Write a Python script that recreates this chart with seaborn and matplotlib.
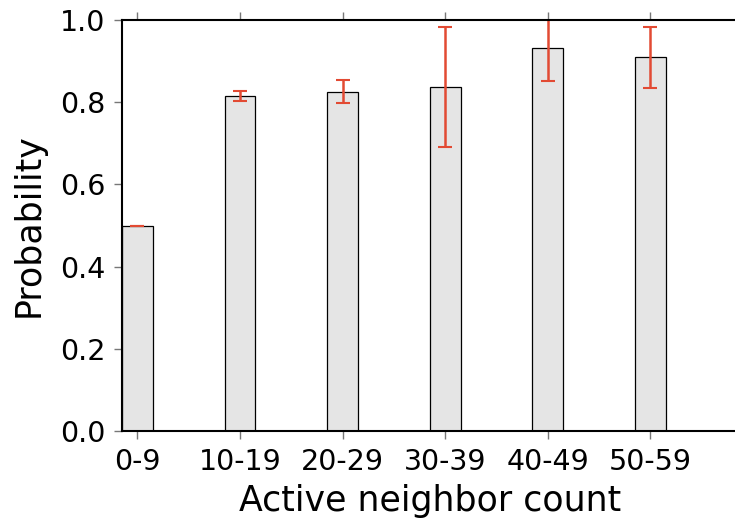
import matplotlib
matplotlib.use("Agg")
import matplotlib.pyplot as plt
import seaborn as sns
import pandas as pd

categories = ["0-9", "10-19", "20-29", "30-39", "40-49", "50-59"]
probability = [0.500, 0.815, 0.826, 0.837, 0.931, 0.909]
error = [0.000, 0.012, 0.027, 0.146, 0.079, 0.075]

sns.set_style("white")
plt.rcParams["font.family"] = ["DejaVu Sans"]
plt.rcParams["text.color"] = "black"
plt.rcParams["axes.labelcolor"] = "black"
plt.rcParams["xtick.labelcolor"] = "black"
plt.rcParams["ytick.labelcolor"] = "black"

df = pd.DataFrame({"group": categories, "p": probability, "err": error})

fig = plt.figure(figsize=(7.35, 5.27), dpi=100)
ax = fig.add_axes([122 / 735, 96 / 527, 615.6 / 735, 411 / 527])

sns.barplot(data=df, x="group", y="p", order=categories, width=0.3,
            color="#e5e5e5", saturation=1, edgecolor="black", linewidth=0.9,
            errorbar=None, ax=ax)
ax.errorbar(range(len(categories)), df["p"], yerr=df["err"], fmt="none",
            ecolor="#e24a33", elinewidth=1.8, capsize=5, capthick=1.5)

ax.set_xlim(-0.15, 5.85)
ax.set_ylim(0, 1.0)
ax.set_yticks([0.0, 0.2, 0.4, 0.6, 0.8, 1.0])
ax.set_yticklabels(["0.0", "0.2", "0.4", "0.6", "0.8", "1.0"])
ax.set_xlabel("Active neighbor count", fontsize=25, labelpad=6)
ax.set_ylabel("Probability", fontsize=25, labelpad=10)

for side in ["left", "top", "bottom", "right"]:
    ax.spines[side].set_visible(True)
    ax.spines[side].set_color("black")
    ax.spines[side].set_linewidth(1.5)

ax.tick_params(axis="both", which="major", labelsize=20.5, direction="out",
               length=6, width=1, color="#777777", pad=6)
ax.tick_params(axis="x", top=True, bottom=True)
ax.tick_params(axis="y", left=True, right=False)

fig.savefig("out.png", dpi=100)
